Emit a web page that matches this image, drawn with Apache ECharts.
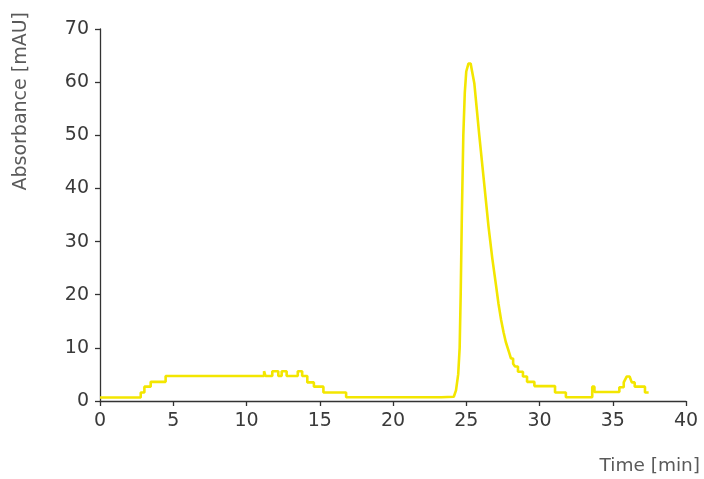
<!DOCTYPE html>
<html>
<head>
<meta charset="utf-8">
<script src="https://cdn.jsdelivr.net/npm/echarts@6/dist/echarts.min.js"></script>
<style>
html,body{margin:0;padding:0;background:#fff;}
#chart{width:704px;height:479px;}
</style>
</head>
<body>
<div id="chart"></div>
<script>
// Time (min) and absorbance (mAU)
var times = [
  0, 2.78, 2.78, 3.03, 3.03, 3.46, 3.46, 4.48, 4.48,
  6.6, 6.7, 6.8, 6.9, 7.0, 7.1, 7.2, 7.3, 7.4, 7.5, 7.6, 7.7, 7.8, 7.9, 8.0, 8.1, 8.2, 8.3, 8.4, 8.5,
  8.6, 8.7, 8.8, 8.9, 9.0, 9.1, 9.2, 9.3, 9.4, 9.5, 9.6, 9.7, 9.8, 9.9, 10.0,
  11.2, 11.2, 11.3, 11.3, 11.76, 11.76, 12.17, 12.17, 12.4, 12.4, 12.5, 12.55, 12.74, 12.74,
  13.5, 13.5, 13.8, 13.8, 14.15, 14.15, 14.6, 14.6, 15.25, 15.25, 16.8, 16.8,
  19.9, 20.0, 20.1, 20.2, 20.3, 20.4, 20.5, 20.6, 20.7, 20.8, 20.9, 21.0, 21.1, 21.2, 21.3, 21.4, 21.5,
  21.6, 21.7, 21.8, 21.9, 22.0, 22.1, 22.2, 22.3, 22.4, 22.5, 22.6, 22.7, 22.8, 22.9, 23.0, 23.1, 23.2, 23.3,
  24.15, 24.3, 24.45, 24.55, 24.62, 24.7, 24.8, 24.9, 25.0, 25.15, 25.3, 25.4, 25.55,
  25.89, 26.24, 26.52, 26.78, 27.03, 27.2, 27.37, 27.55, 27.7, 27.94,
  28.05, 28.05, 28.2, 28.2, 28.33, 28.33, 28.53, 28.53, 28.87, 28.87, 29.15, 29.15, 29.65, 29.65,
  31.06, 31.06, 31.8, 31.8, 33.6, 33.6, 33.75, 33.75, 35.45, 35.45, 35.75, 35.75, 35.95, 36.15,
  36.3, 36.5, 36.5, 37.2, 37.2, 37.45
];
var absorbance = [
  0.65, 0.65, 1.6, 1.6, 2.7, 2.7, 3.6, 3.6, 4.7,
  4.7, 4.9, 4.7, 4.9, 4.7, 4.9, 4.7, 4.9, 4.7, 4.9, 4.7, 4.9, 4.7, 4.9, 4.7, 4.9, 4.7, 4.9, 4.7, 4.9,
  4.7, 4.9, 4.7, 4.9, 4.7, 4.9, 4.7, 4.9, 4.7, 4.9, 4.7, 4.9, 4.7, 4.9, 4.7,
  4.7, 5.6, 5.6, 4.7, 4.7, 5.6, 5.6, 4.7, 4.7, 5.6, 5.3, 5.6, 5.6, 4.7,
  4.7, 5.6, 5.6, 4.7, 4.7, 3.5, 3.5, 2.7, 2.7, 1.6, 1.6, 0.7,
  0.7, 0.9, 0.7, 0.9, 0.7, 0.9, 0.7, 0.9, 0.7, 0.9, 0.7, 0.9, 0.7, 0.9, 0.7, 0.9, 0.7,
  0.9, 0.7, 0.9, 0.7, 0.9, 0.7, 0.9, 0.7, 0.9, 0.7, 0.9, 0.7, 0.9, 0.7, 0.9, 0.7, 0.9, 0.7,
  0.8, 2, 5, 10, 20, 35, 50, 58, 62, 63.5, 63.5, 62, 59.8,
  50, 40.5, 32.8, 26.8, 21.8, 18.3, 15.4, 12.9, 11.1, 9,
  9, 8, 8, 7, 7, 6.5, 6.5, 5.5, 5.5, 4.6, 4.6, 3.6, 3.6, 2.8,
  2.8, 1.6, 1.6, 0.7, 0.7, 2.7, 2.7, 1.7, 1.7, 2.6, 2.6, 3.5, 4.6, 4.6,
  3.5, 3.5, 2.7, 2.7, 1.6, 1.6
];
var xTicks = [0, 5, 10, 15, 20, 25, 30, 35, 40];
var yTicks = [0, 10, 20, 30, 40, 50, 60, 70];

var data = times.map(function (t, i) { return [t, absorbance[i]]; });
var font = '"DejaVu Sans", sans-serif';
var chart = echarts.init(document.getElementById('chart'), null, {renderer: 'canvas'});
chart.setOption({
  animation: false,
  backgroundColor: '#ffffff',
  grid: {left: 100, right: 18, top: 29, bottom: 78, containLabel: false},
  xAxis: {
    type: 'value', min: xTicks[0], max: xTicks[xTicks.length - 1], interval: 5,
    axisLine: {show: true, lineStyle: {color: '#333', width: 1.3}},
    axisTick: {show: true, length: 5, lineStyle: {color: '#333', width: 1.3}},
    splitLine: {show: false},
    axisLabel: {color: '#3a3a3a', fontSize: 19, fontFamily: font, margin: 11}
  },
  yAxis: {
    type: 'value', min: yTicks[0], max: yTicks[yTicks.length - 1], interval: 10,
    axisLine: {show: true, lineStyle: {color: '#333', width: 1.3}},
    axisTick: {show: true, length: 5, lineStyle: {color: '#333', width: 1.3}},
    splitLine: {show: false},
    axisLabel: {color: '#3a3a3a', fontSize: 19, fontFamily: font, margin: 11}
  },
  graphic: [
    {type: 'text', left: 12, top: 12, rotation: Math.PI / 2,
     style: {text: 'Absorbance [mAU]', fill: '#5a5a5a', font: '19px ' + font}},
    {type: 'text', right: 4, top: 457,
     style: {text: 'Time [min]', fill: '#5a5a5a', font: '18.5px ' + font}}
  ],
  series: [{
    type: 'line', data: data, showSymbol: false, smooth: false,
    lineStyle: {color: '#f3e600', width: 2.6},
    itemStyle: {color: '#f3e600'}
  }]
});
</script>
</body>
</html>
